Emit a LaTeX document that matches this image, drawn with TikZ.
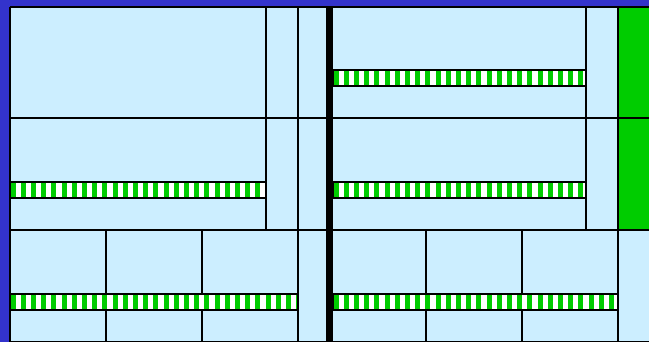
\documentclass[tikz,border=0pt]{standalone}
\usetikzlibrary{positioning}
\definecolor{frameblue}{HTML}{3333CC}
\definecolor{cellblue}{HTML}{CCEEFF}
\definecolor{signalgreen}{HTML}{00CC00}

\begin{document}
\begin{tikzpicture}[x=1pt,y=-1pt,wall/.style={line width=1.6pt},divider/.style={fill=black},barbox/.style={draw,line width=1.4pt}]
\useasboundingbox (0,0) rectangle (649,342);
\clip (0,0) rectangle (649,342);
\fill[frameblue] (0,0) rectangle (649,342);
\fill[cellblue] (10,7) rectangle (649,342);
\fill[signalgreen] (618,7) rectangle (649,230);
% grid
\draw[wall] (10,7) -- (649,7);
\draw[wall] (10,7) -- (10,342);
\draw[wall] (10,118) -- (649,118);
\draw[wall] (10,230) -- (649,230);
\draw[wall] (10,342) -- (649,342);
\foreach \x in {266,586} \draw[wall] (\x,7) -- (\x,230);
\foreach \x in {298,618} \draw[wall] (\x,7) -- (\x,342);
\foreach \x in {106,202,426,522} \draw[wall] (\x,230) -- (\x,342);
% striped bars
\foreach \xa/\xb/\yb in {333/586/70,10/266/182,333/586/182,10/298/294,333/618/294}{
  \fill[white] (\xa,\yb) rectangle (\xb,\yb+16);
  \begin{scope}
  \clip (\xa,\yb) rectangle (\xb,\yb+16);
  \foreach \s in {0,...,28} \fill[signalgreen] (\xa+0.5+10.2*\s,\yb) rectangle ++(5,16);
  \end{scope}
  \draw[barbox] (\xa,\yb) rectangle (\xb,\yb+16);
}
\fill[divider] (326,7) rectangle (333,342);
\end{tikzpicture}
\end{document}
